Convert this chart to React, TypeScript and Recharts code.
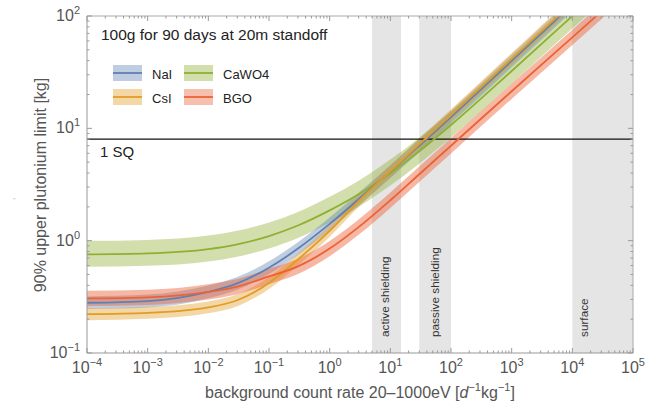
import React from "react";
import {
  ComposedChart,
  Area,
  Line,
  XAxis,
  YAxis,
  ReferenceArea,
  ReferenceLine,
} from "recharts";

// background count rate [1/(d kg)]
const rates = [1e-4, 1e-3, 1e-2, 3e-2, 1e-1, 3e-1, 1, 3, 10, 30, 100, 1e3, 1e4, 1e5];

// 90% upper limit [kg], centre line and band edges
const naiMid = [0.28, 0.29, 0.35, 0.417, 0.575, 0.85, 1.41, 2.34, 4.12, 7.0, 12.6, 39.8, 126, 398];
const naiLow = [0.246, 0.254, 0.307, 0.366, 0.504, 0.746, 1.237, 2.053, 3.614, 6.14, 11.05, 34.9, 110.5, 349];
const naiHigh = [0.319, 0.331, 0.399, 0.475, 0.656, 0.969, 1.607, 2.668, 4.697, 7.98, 14.36, 45.4, 143.6, 454];

const csiMid = [0.222, 0.228, 0.255, 0.295, 0.42, 0.68, 1.22, 2.25, 4.15, 7.2, 13.1, 41.5, 131, 415];
const csiLow = [0.196, 0.202, 0.226, 0.261, 0.372, 0.602, 1.08, 1.99, 3.67, 6.37, 11.6, 36.7, 116, 367];
const csiHigh = [0.251, 0.258, 0.288, 0.333, 0.475, 0.768, 1.379, 2.543, 4.69, 8.14, 14.8, 46.9, 148, 469];

const cawoMid = [0.755, 0.77, 0.84, 0.927, 1.1, 1.365, 1.86, 2.59, 3.99, 6.25, 10.7, 32.4, 100, 309];
const cawoLow = [0.585, 0.597, 0.651, 0.719, 0.853, 1.058, 1.442, 2.008, 3.093, 4.845, 8.295, 25.1, 77.5, 240];
const cawoHigh = [0.997, 1.016, 1.109, 1.224, 1.452, 1.802, 2.455, 3.419, 5.267, 8.25, 14.12, 42.8, 132, 408];

const bgoMid = [0.306, 0.313, 0.35, 0.39, 0.48, 0.59, 0.85, 1.32, 2.29, 3.9, 7.0, 21.4, 64.6, 195];
const bgoLow = [0.262, 0.268, 0.299, 0.333, 0.41, 0.504, 0.726, 1.128, 1.957, 3.333, 5.983, 18.29, 55.2, 166.7];
const bgoHigh = [0.358, 0.366, 0.41, 0.456, 0.562, 0.69, 0.995, 1.544, 2.679, 4.563, 8.19, 25.04, 75.6, 228];

// shaded background regimes
const regions = [
  { name: "active shielding", from: 5, to: 15, at: 0.46 },
  { name: "passive shielding", from: 30, to: 100, at: 0.49 },
  { name: "surface", from: 1e4, to: 1e5, at: 0.2 },
];

const SQ = 8;

const xExps = [-4, -3, -2, -1, 0, 1, 2, 3, 4, 5];
const yExps = [-1, 0, 1, 2];
const mantissas = [1, 2, 3, 4, 5, 6, 7, 8, 9];

const xTicks = xExps.flatMap((e) => mantissas.map((m) => m * 10 ** e)).filter((v) => v <= 1e5 * 1.0001);
const yTicks = yExps.flatMap((e) => mantissas.map((m) => m * 10 ** e)).filter((v) => v <= 100 * 1.0001);

const COLORS = {
  nai: "#5E81B5",
  csi: "#E19C24",
  cawo: "#8FB032",
  bgo: "#EB6235",
};

const rows = rates.map((x, i) => ({
  x,
  nai: naiMid[i],
  naiBand: [naiLow[i], naiHigh[i]],
  csi: csiMid[i],
  csiBand: [csiLow[i], csiHigh[i]],
  cawo: cawoMid[i],
  cawoBand: [cawoLow[i], cawoHigh[i]],
  bgo: bgoMid[i],
  bgoBand: [bgoLow[i], bgoHigh[i]],
}));

const FONT = "'Liberation Sans', Arial, Helvetica, sans-serif";
const AXIS = "#999";
const LABEL = "#555";

const isMajor = (v: number) => Math.abs(Math.log10(v) - Math.round(Math.log10(v))) < 1e-6;
const expOf = (v: number) => {
  const e = Math.round(Math.log10(v));
  return e < 0 ? `\u2212${-e}` : `${e}`;
};

function BottomTick({ x, y, payload }: any) {
  const v = payload.value;
  const major = isMajor(v);
  return (
    <g>
      <line x1={x} x2={x} y1={y} y2={y - (major ? 5 : 2.5)} stroke={AXIS} />
      {major && (
        <text x={x} y={y + 20} textAnchor="middle" fill={LABEL} fontSize={16} fontFamily={FONT}>
          10
          <tspan dy={-7} fontSize={11}>
            {expOf(v)}
          </tspan>
        </text>
      )}
    </g>
  );
}

function TopTick({ x, y, payload }: any) {
  const major = isMajor(payload.value);
  return <line x1={x} x2={x} y1={y} y2={y + (major ? 5 : 2.5)} stroke={AXIS} />;
}

function LeftTick({ x, y, payload }: any) {
  const v = payload.value;
  const major = isMajor(v);
  return (
    <g>
      <line x1={x} x2={x + (major ? 5 : 2.5)} y1={y} y2={y} stroke={AXIS} />
      {major && (
        <text x={x - 7} y={y + 5} textAnchor="end" fill={LABEL} fontSize={16} fontFamily={FONT}>
          10
          <tspan dy={-7} fontSize={11}>
            {expOf(v)}
          </tspan>
        </text>
      )}
    </g>
  );
}

function RightTick({ x, y, payload }: any) {
  const major = isMajor(payload.value);
  return <line x1={x} x2={x - (major ? 5 : 2.5)} y1={y} y2={y} stroke={AXIS} />;
}

function RegionLabel({ viewBox, text, at }: any) {
  if (!viewBox) return null;
  const cx = viewBox.x + viewBox.width * at;
  const by = viewBox.y + viewBox.height - 16;
  return (
    <text
      x={cx}
      y={by}
      transform={`rotate(-90 ${cx} ${by})`}
      dominantBaseline="central"
      fill="#333"
      fontSize={11.8}
      fontFamily={FONT}
    >
      {text}
    </text>
  );
}

const legendItems = [
  { name: "NaI", color: COLORS.nai, x: 113, y: 65 },
  { name: "CsI", color: COLORS.csi, x: 113, y: 89 },
  { name: "CaWO4", color: COLORS.cawo, x: 184, y: 65 },
  { name: "BGO", color: COLORS.bgo, x: 184, y: 89 },
];

const axisCommon = {
  type: "number" as const,
  scale: "log" as const,
  allowDataOverflow: true,
  interval: 0 as const,
  tickLine: false,
  tickSize: 0,
  tickMargin: 0,
};

export default function App() {
  return (
    <div style={{ position: "absolute", left: 0, top: 0, width: 658, height: 408, background: "#fff" }}>
      <ComposedChart
        width={658}
        height={408}
        data={rows}
        margin={{ top: 15, right: 24, bottom: 54, left: 86 }}
      >
        <XAxis
          {...axisCommon}
          dataKey="x"
          domain={[1e-4, 1e5]}
          ticks={xTicks}
          tick={<BottomTick />}
          height={1}
          axisLine={{ stroke: AXIS }}
        />
        <XAxis
          {...axisCommon}
          xAxisId="top"
          orientation="top"
          dataKey="x"
          domain={[1e-4, 1e5]}
          ticks={xTicks}
          tick={<TopTick />}
          height={1}
          axisLine={{ stroke: "#aaa" }}
        />
        <YAxis
          {...axisCommon}
          domain={[0.1, 100]}
          ticks={yTicks}
          tick={<LeftTick />}
          width={1}
          axisLine={{ stroke: AXIS }}
        />
        <YAxis
          {...axisCommon}
          yAxisId="right"
          orientation="right"
          domain={[0.1, 100]}
          ticks={yTicks}
          tick={<RightTick />}
          width={1}
          axisLine={{ stroke: "#aaa" }}
        />

        {regions.map((r) => (
          <ReferenceArea
            key={r.name}
            x1={r.from}
            x2={r.to}
            fill="#e5e5e5"
            fillOpacity={1}
            stroke="none"
            label={<RegionLabel text={r.name} at={r.at} />}
          />
        ))}

        <Area dataKey="cawoBand" type="monotone" fill={COLORS.cawo} fillOpacity={0.4} stroke="none" isAnimationActive={false} />
        <Area dataKey="naiBand" type="monotone" fill={COLORS.nai} fillOpacity={0.4} stroke="none" isAnimationActive={false} />
        <Area dataKey="csiBand" type="monotone" fill={COLORS.csi} fillOpacity={0.4} stroke="none" isAnimationActive={false} />
        <Area dataKey="bgoBand" type="monotone" fill={COLORS.bgo} fillOpacity={0.45} stroke="none" isAnimationActive={false} />

        <ReferenceLine y={SQ} stroke="#111" strokeWidth={1.2} />

        <Line dataKey="cawo" type="monotone" stroke={COLORS.cawo} strokeWidth={1.8} dot={false} isAnimationActive={false} />
        <Line dataKey="nai" type="monotone" stroke={COLORS.nai} strokeWidth={1.8} dot={false} isAnimationActive={false} />
        <Line dataKey="csi" type="monotone" stroke={COLORS.csi} strokeWidth={1.8} dot={false} isAnimationActive={false} />
        <Line dataKey="bgo" type="monotone" stroke={COLORS.bgo} strokeWidth={1.8} dot={false} isAnimationActive={false} />
      </ComposedChart>

      <svg
        width={658}
        height={408}
        style={{ position: "absolute", left: 0, top: 0, pointerEvents: "none" }}
        fontFamily={FONT}
      >
        <text x={101} y={40} fontSize={15.5} fill="#222">
          100g for 90 days at 20m standoff
        </text>
        {legendItems.map((it) => (
          <g key={it.name}>
            <rect x={it.x} y={it.y} width={29} height={16} fill={it.color} fillOpacity={0.4} />
            <line x1={it.x} x2={it.x + 29} y1={it.y + 8} y2={it.y + 8} stroke={it.color} strokeWidth={1.8} />
            <text x={it.x + 39} y={it.y + 13.5} fontSize={13} fill="#222">
              {it.name}
            </text>
          </g>
        ))}
        <text x={100} y={157} fontSize={15} fill="#222">
          1 SQ
        </text>
        <text
          x={40}
          y={185}
          transform="rotate(-90 40 185)"
          textAnchor="middle"
          dominantBaseline="central"
          fontSize={16}
          fill={LABEL}
        >
          90% upper plutonium limit [kg]
        </text>
        <text x={13} y={203} fontSize={7} fill="#bbb">
          "
        </text>
        <text x={360} y={398} textAnchor="middle" fontSize={16} fill={LABEL}>
          background count rate 20–1000eV [<tspan fontStyle="italic">d</tspan>
          <tspan dy={-7} fontSize={11}>
            −1
          </tspan>
          <tspan dy={7}>kg</tspan>
          <tspan dy={-7} fontSize={11}>
            −1
          </tspan>
          <tspan dy={7}>]</tspan>
        </text>
      </svg>
    </div>
  );
}
